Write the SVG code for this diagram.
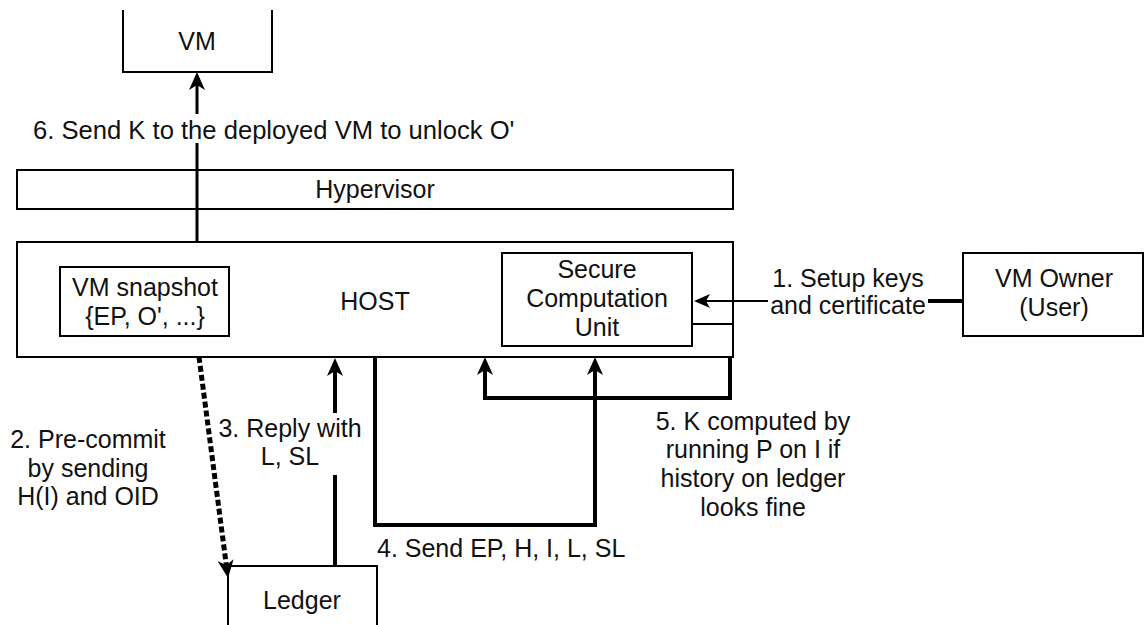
<svg xmlns="http://www.w3.org/2000/svg" width="1145" height="625" viewBox="0 0 1145 625">
<style>
  .box { fill: #ffffff; stroke: #000000; stroke-width: 2; }
  .t { font-family: "Liberation Sans", Arial, sans-serif; font-size: 25px; fill: #111111; }
  .c { text-anchor: middle; }
  .edge { fill: none; stroke: #000000; stroke-linecap: butt; stroke-linejoin: miter; }
  .thick { stroke-width: 4; }
  .mid { stroke-width: 3; }
  .thin { stroke-width: 2; }
</style>
<defs>
  <marker id="arrow" viewBox="0 0 18 16" markerWidth="18" markerHeight="16" refX="8" refY="8" orient="auto" markerUnits="userSpaceOnUse">
    <path d="M18,8 L0,0 L5,8 L0,16 Z" fill="#000000"/>
  </marker>
  <marker id="arrowS" viewBox="0 0 16 14" markerWidth="16" markerHeight="14" refX="8" refY="7" orient="auto" markerUnits="userSpaceOnUse">
    <path d="M16,7 L0,0 L4,7 L0,14 Z" fill="#000000"/>
  </marker>
</defs>
<rect width="1145" height="625" fill="#ffffff"/>

<g id="vm">
  <path d="M123,10 V72 H272 V10" fill="#ffffff" stroke="#000000" stroke-width="2"/>
  <text class="t c" x="197" y="50">VM</text>
</g>

<g id="hypervisor">
  <rect class="box" x="17" y="170" width="716" height="39"/>
  <text class="t c" x="375" y="198">Hypervisor</text>
</g>

<g id="host">
  <rect class="box" x="17" y="242" width="716" height="115"/>
  <text class="t c" x="375" y="310">HOST</text>
</g>

<g id="vm-snapshot">
  <rect class="box" x="60" y="267" width="169" height="69"/>
  <text class="t c" x="145" y="296">VM snapshot</text>
  <text class="t c" x="145" y="325">{EP, O', ...}</text>
</g>

<g id="secure-unit">
  <rect class="box" x="502" y="253" width="190" height="93" stroke="#333333"/>
  <text class="t c" x="597" y="278">Secure</text>
  <text class="t c" x="597" y="307">Computation</text>
  <text class="t c" x="597" y="336">Unit</text>
</g>

<g id="vm-owner">
  <rect class="box" x="963" y="253" width="180" height="83"/>
  <text class="t c" x="1054" y="287">VM Owner</text>
  <text class="t c" x="1054" y="316">(User)</text>
</g>

<g id="ledger">
  <path d="M228,640 V566 H377 V640" fill="#ffffff" stroke="#000000" stroke-width="2"/>
  <text class="t c" x="302" y="609">Ledger</text>
</g>

<g id="connectors">
  <!-- 1 -->
  <path class="edge thick" d="M963,301 H928"/>
  <path class="edge thin" d="M768,301 H702" marker-end="url(#arrowS)"/>
  <path class="edge thin" d="M692,324 H733"/>
  <!-- 2 -->
  <path class="edge" stroke-width="5" stroke-dasharray="6 3" d="M199,357 L226.7,568.1" marker-end="url(#arrow)"/>
  <!-- 3 -->
  <path class="edge thick" d="M335,566 V475"/>
  <path class="edge thick" d="M335,413 V368" marker-end="url(#arrow)"/>
  <!-- 4 -->
  <path class="edge thick" d="M375,357 V525 H595 V367" marker-end="url(#arrow)"/>
  <!-- 5 -->
  <path class="edge thick" d="M730,357 V398 H485 V367" marker-end="url(#arrow)"/>
  <!-- 6 -->
  <path class="edge mid" d="M197,242 V143"/>
  <path class="edge mid" d="M197,114 V82" marker-end="url(#arrow)"/>

  <text class="t c" x="848" y="287">1. Setup keys</text>
  <text class="t c" x="848" y="314">and certificate</text>

  <text class="t c" x="88" y="448">2. Pre-commit</text>
  <text class="t c" x="88" y="477">by sending</text>
  <text class="t c" x="88" y="505">H(I) and OID</text>

  <text class="t c" x="290" y="437">3. Reply with</text>
  <text class="t c" x="290" y="465">L, SL</text>

  <text class="t" x="377" y="557">4. Send EP, H, I, L, SL</text>

  <text class="t c" x="753" y="430">5. K computed by</text>
  <text class="t c" x="753" y="458">running P on I if</text>
  <text class="t c" x="753" y="487">history on ledger</text>
  <text class="t c" x="753" y="516">looks fine</text>

  <text class="t" x="33" y="139" style="font-size:25.6px">6. Send K to the deployed VM to unlock O'</text>
</g>
</svg>
